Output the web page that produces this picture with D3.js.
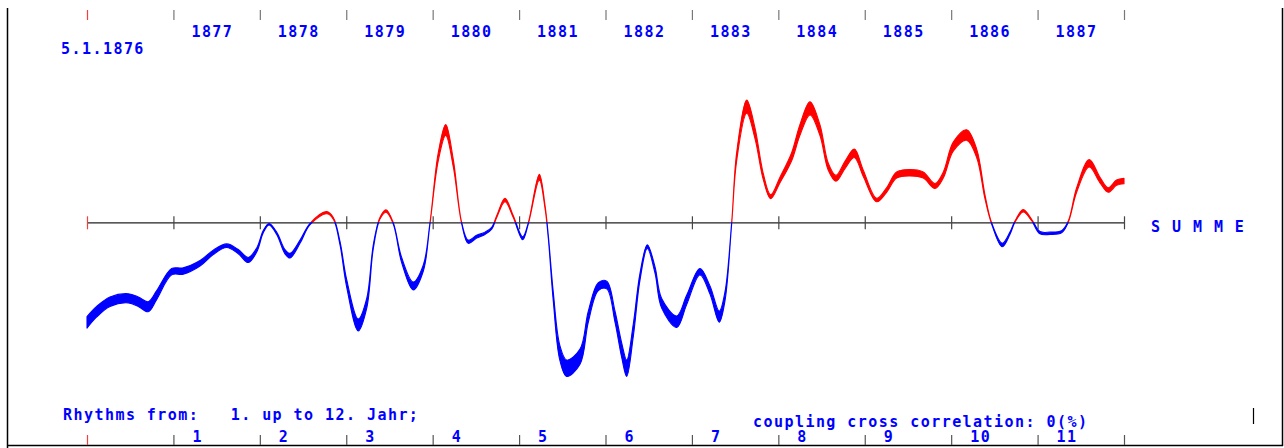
<!DOCTYPE html>
<html>
<head>
<meta charset="utf-8">
<script src="https://cdn.jsdelivr.net/npm/d3@7"></script>
<style>
html,body{margin:0;padding:0;background:#fff;}
svg{display:block;}
text{font-family:"DejaVu Sans Mono","Liberation Mono",monospace;font-size:15px;font-weight:bold;fill:#0000ff;letter-spacing:1.45px;white-space:pre;}
</style>
</head>
<body>
<script>
// ---- data ----
const startLabel = "5.1.1876";
const yearLabels = ["1877","1878","1879","1880","1881","1882","1883","1884","1885","1886","1887"];
const rhythmLabels = ["1","2","3","4","5","6","7","8","9","10","11"];
const seriesName = "S U M M E";
const footLeft = "Rhythms from:   1. up to 12. Jahr;";
const footRight = "coupling cross correlation: 0(%)";
// time in years since 5.1.1876
const times = [0.00,0.112,0.266,0.478,0.594,0.709,0.807,0.980,1.114,1.308,1.461,1.617,1.751,1.866,1.964,2.040,2.106,2.195,2.291,2.349,2.465,2.581,2.774,2.850,2.928,3.005,3.139,3.237,3.313,3.390,3.460,3.544,3.641,3.776,3.891,3.969,4.065,4.151,4.239,4.336,4.412,4.509,4.605,4.683,4.741,4.837,4.933,5.042,5.107,5.234,5.300,5.338,5.396,5.473,5.551,5.705,5.801,5.917,6.014,6.110,6.187,6.245,6.322,6.399,6.484,6.573,6.650,6.824,6.939,7.093,7.209,7.316,7.382,7.460,7.518,7.634,7.730,7.826,7.911,8.019,8.154,8.250,8.366,8.481,8.578,8.667,8.771,8.879,8.983,9.138,9.253,9.369,9.523,9.677,9.812,9.909,10.024,10.179,10.295,10.391,10.468,10.591,10.680,10.738,10.834,10.931,11.027,11.143,11.278,11.355,11.452,11.598,11.722,11.818,11.914,12.0];
const values = [-100,-89.4,-79.4,-76,-79.4,-84.4,-72.7,-49.4,-48.7,-41,-30,-23.4,-29.4,-37.7,-27.7,-9.4,-2,-11,-29.4,-33.4,-19.4,-1.7,9.6,4,-21,-61,-102.7,-81,-24.4,4,11.3,-1,-37.7,-63.7,-46,-1,65.6,92.3,59,-1,-19.4,-14.4,-11,-6,5.6,22.3,5.6,-16,-1,45,15.6,-14.4,-74.4,-131,-146,-134.4,-94.4,-64.4,-62.7,-94.4,-127.7,-146,-107.7,-54.4,-24.4,-47.7,-81,-99.4,-77.7,-49.4,-67.7,-94.4,-74.4,-1,65.6,115.6,89,45.6,25.6,42.3,65.6,92.3,114,92.3,55.6,44,57.3,69,49,22.3,32.3,47.3,49.6,47.3,36.3,47.3,75.6,87.3,69,25.6,-1,-22.7,-11,0.6,11.6,2.3,-10.4,-11,-9.4,0.6,32.3,59,42.3,32.3,39.6,41.3];

// ---- layout ----
const W = 1284, H = 448;
const svg = d3.select("body").append("svg").attr("width", W).attr("height", H);

const x = d3.scaleLinear().domain([0, 12]).range([87, 1124]);
const y = d3.scaleLinear().domain([-150, 150]).range([372.3, 72.3]);
const tickVals = d3.range(0, 13);
const data = times.map((t, i) => ({t, v: values[i]}));

// frame
svg.append("line").attr("x1", 7.5).attr("x2", 7.5).attr("y1", 8).attr("y2", H).attr("stroke", "#000").attr("stroke-width", 1.5);
svg.append("line").attr("x1", 1282.5).attr("x2", 1282.5).attr("y1", 8).attr("y2", 446).attr("stroke", "#000").attr("stroke-width", 1.5);
svg.append("line").attr("x1", 7).attr("x2", 1283).attr("y1", 445.5).attr("y2", 445.5).attr("stroke", "#000").attr("stroke-width", 1.5);
svg.append("line").attr("x1", 1253.5).attr("x2", 1253.5).attr("y1", 408).attr("y2", 424).attr("stroke", "#000").attr("stroke-width", 1.2);

// top axis ticks
const topAxis = svg.append("g").attr("transform", "translate(0,20)")
  .call(d3.axisTop(x).tickValues(tickVals).tickSize(10).tickFormat(""));
topAxis.select(".domain").remove();
topAxis.selectAll(".tick line").attr("stroke", (d) => d === 0 ? "#f04040" : "#777").attr("stroke-width", 1.2);

// bottom axis ticks
const botAxis = svg.append("g").attr("transform", "translate(0,435)")
  .call(d3.axisBottom(x).tickValues(tickVals).tickSize(10).tickFormat(""));
botAxis.select(".domain").remove();
botAxis.selectAll(".tick line").attr("stroke", (d) => d === 0 ? "#f04040" : "#555").attr("stroke-width", 1.2);

// zero axis
const zeroAxis = svg.append("g").attr("transform", `translate(0,${y(0)})`)
  .call(d3.axisBottom(x).tickValues(tickVals).tickSize(0).tickFormat(""));
zeroAxis.select(".domain").attr("stroke", "#222").attr("stroke-width", 1.2);
zeroAxis.selectAll(".tick line").attr("y1", -6).attr("y2", 7).attr("stroke", (d) => d === 0 ? "#f04040" : "#444").attr("stroke-width", 1.2);

// labels
svg.selectAll("text.year").data(yearLabels).enter().append("text")
  .attr("class", "year").attr("x", (d, i) => x(i + 1) + 18).attr("y", 36.5).text(d => d);
svg.append("text").attr("x", 61).attr("y", 54).text(startLabel);
svg.selectAll("text.rh").data(rhythmLabels).enter().append("text")
  .attr("class", "rh").attr("x", (d, i) => x(i + 1) + 19).attr("y", 442.3).text(d => d);
svg.append("text").attr("x", 1151).attr("y", 231.6).text(seriesName);
svg.append("text").attr("x", 63).attr("y", 420).attr("xml:space", "preserve").text(footLeft);
svg.append("text").attr("x", 753).attr("y", 426.5).text(footRight);

// band curve
const hw = v => 0.6 + 0.052 * Math.abs(v);
const area = d3.area()
  .x(d => x(d.t))
  .y0(d => y(d.v - hw(d.v)))
  .y1(d => y(d.v + hw(d.v)))
  .curve(d3.curveCatmullRom.alpha(0.5));

const defs = svg.append("defs");
defs.append("clipPath").attr("id", "clipAbove").append("rect")
  .attr("x", 0).attr("y", 0).attr("width", W).attr("height", y(0));
defs.append("clipPath").attr("id", "clipBelow").append("rect")
  .attr("x", 0).attr("y", y(0)).attr("width", W).attr("height", H - y(0));

[["clipAbove", "#ff0000"], ["clipBelow", "#0000ff"]].forEach(([id, col]) => {
  svg.append("path").datum(data)
    .attr("clip-path", `url(#${id})`)
    .attr("d", area)
    .attr("fill", col)
    .attr("stroke", col)
    .attr("stroke-width", 1.1)
    .attr("stroke-linejoin", "round");
});
</script>
</body>
</html>
